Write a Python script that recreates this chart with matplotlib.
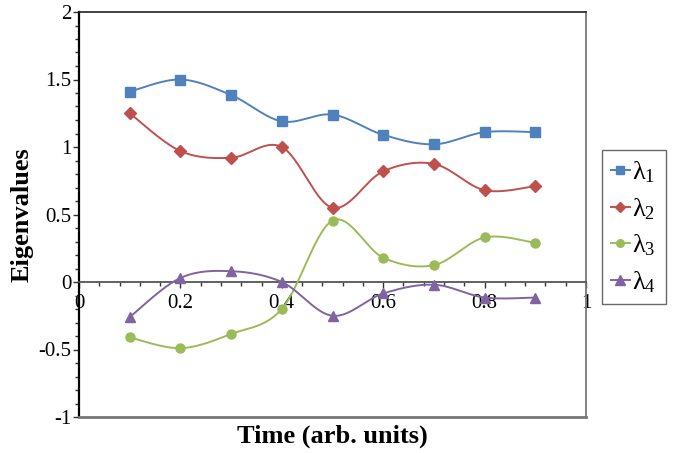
import numpy as np
import matplotlib
matplotlib.use("Agg")
import matplotlib.pyplot as plt
from matplotlib.ticker import MultipleLocator, FixedLocator

plt.rcParams['font.family'] = ['Liberation Serif', 'DejaVu Serif']
plt.rcParams['mathtext.fontset'] = 'custom'
plt.rcParams['mathtext.rm'] = 'Liberation Serif'
plt.rcParams['mathtext.it'] = 'Liberation Serif:italic'

# Data
time = [0.1, 0.2, 0.3, 0.4, 0.5, 0.6, 0.7, 0.8, 0.9]
lambda1 = [1.41, 1.50, 1.385, 1.19, 1.24, 1.09, 1.02, 1.11, 1.11]
lambda2 = [1.25, 0.97, 0.92, 1.00, 0.55, 0.82, 0.875, 0.68, 0.71]
lambda3 = [-0.41, -0.49, -0.385, -0.20, 0.455, 0.18, 0.125, 0.33, 0.29]
lambda4 = [-0.26, 0.03, 0.08, 0.00, -0.25, -0.085, -0.02, -0.115, -0.115]
labels = [r'$\mathregular{\lambda_1}$', r'$\mathregular{\lambda_2}$',
          r'$\mathregular{\lambda_3}$', r'$\mathregular{\lambda_4}$']
colors = ['#4F81BD', '#C0504D', '#9BBB59', '#8064A2']
markers = ['s', 'D', 'o', '^']
msizes = [6.5, 6.2, 6.5, 7.5]


def smooth_curve(x, y, n=30):
    """Catmull-Rom style Bezier smoothing through every point."""
    p = np.column_stack([x, y]).astype(float)
    ext = np.vstack([p[0], p, p[-1]])
    t = np.linspace(0, 1, n)[:, None]
    segs = []
    for i in range(len(p) - 1):
        p0, p1, p2, p3 = ext[i], ext[i + 1], ext[i + 2], ext[i + 3]
        b1 = p1 + (p2 - p0) / 6.0
        b2 = p2 - (p3 - p1) / 6.0
        c = ((1 - t) ** 3) * p1 + 3 * ((1 - t) ** 2) * t * b1 \
            + 3 * (1 - t) * t ** 2 * b2 + t ** 3 * p2
        segs.append(c if i == 0 else c[1:])
    c = np.vstack(segs)
    return c[:, 0], c[:, 1]


fig = plt.figure(figsize=(6.76, 4.53), dpi=100)
ax = fig.add_axes([79 / 676, 36 / 453, 507 / 676, 405 / 453])

for ys, col, mk, ms, lab in zip([lambda1, lambda2, lambda3, lambda4],
                                colors, markers, msizes, labels):
    sx, sy = smooth_curve(time, ys)
    ax.plot(sx, sy, color=col, lw=1.4, zorder=3)
    ax.plot(time, ys, linestyle='none', marker=mk, markersize=ms,
            color=col, zorder=4)
    ax.plot([], [], color=col, lw=1.4, marker=mk, markersize=ms - 1, label=lab)

ax.set_xlim(0, 1)
ax.set_ylim(-1, 2)

# x axis crosses at y = 0
ax.spines['bottom'].set_position(('data', 0))
ax.spines['bottom'].set_color('#555555')
ax.spines['bottom'].set_linewidth(1.3)
ax.spines['left'].set_color('black')
ax.spines['left'].set_linewidth(1.6)
ax.spines['top'].set_color('#222222')
ax.spines['top'].set_linewidth(1.2)
ax.spines['right'].set_color('#777777')
ax.spines['right'].set_linewidth(1.3)
ax.axhline(-1, color='#777777', lw=2.0, clip_on=False, zorder=5)

ax.xaxis.set_major_locator(FixedLocator([0, 0.2, 0.4, 0.6, 0.8, 1.0]))
ax.xaxis.set_minor_locator(MultipleLocator(0.04))
ax.yaxis.set_major_locator(FixedLocator([-1, -0.5, 0, 0.5, 1, 1.5, 2]))
ax.yaxis.set_minor_locator(MultipleLocator(0.1))
ax.set_xticklabels(['0', '0.2', '0.4', '0.6', '0.8', '1'])
ax.set_yticklabels(['-1', '-0.5', '0', '0.5', '1', '1.5', '2'])

ax.tick_params(axis='both', which='major', labelsize=15, direction='out',
               color='#333333', width=1.0)
ax.tick_params(axis='both', which='minor', direction='out',
               color='#333333', width=1.0, length=3)
ax.tick_params(axis='x', which='major', length=4, pad=5)
ax.tick_params(axis='y', which='major', length=4.5, pad=1)

ax.set_xlabel('Time (arb. units)', fontsize=19, fontweight='bold', va='center')
ax.xaxis.set_label_coords(0.5, -0.047)
ax.set_ylabel('Eigenvalues', fontsize=19, fontweight='bold', va='center')
ax.yaxis.set_label_coords(-0.113, 0.5)

leg = ax.legend(loc='upper left', bbox_to_anchor=(602 / 676, 1 - 150 / 453),
                bbox_transform=fig.transFigure, fontsize=19, frameon=True,
                fancybox=False, edgecolor='#444444', handlelength=0.7,
                handletextpad=0.1, borderpad=0.35, labelspacing=0.42,
                borderaxespad=0)
leg.get_frame().set_linewidth(1.0)

fig.savefig('out.png', dpi=100)
